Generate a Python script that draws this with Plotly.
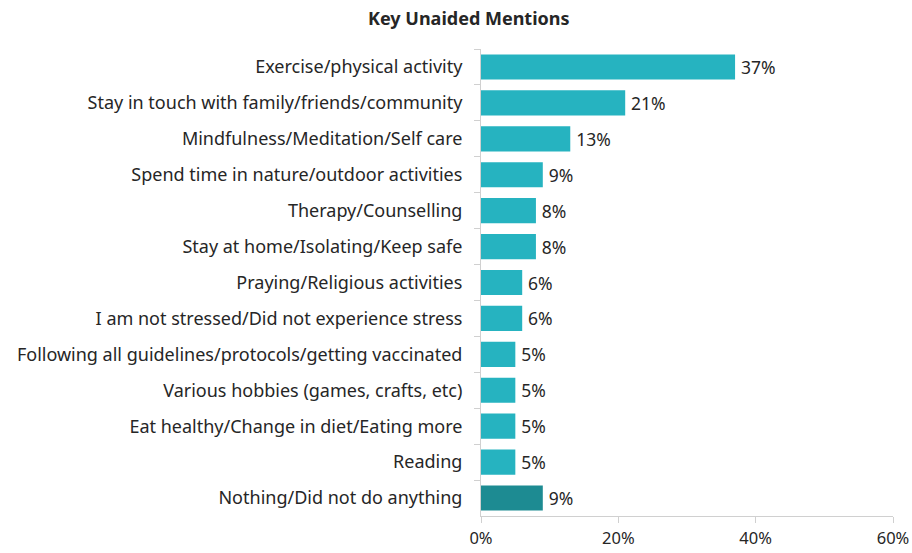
import plotly.graph_objects as go

categories = [
    "Exercise/physical activity",
    "Stay in touch with family/friends/community",
    "Mindfulness/Meditation/Self care",
    "Spend time in nature/outdoor activities",
    "Therapy/Counselling",
    "Stay at home/Isolating/Keep safe",
    "Praying/Religious activities",
    "I am not stressed/Did not experience stress",
    "Following all guidelines/protocols/getting vaccinated",
    "Various hobbies (games, crafts, etc)",
    "Eat healthy/Change in diet/Eating more",
    "Reading",
    "Nothing/Did not do anything",
]
values = [37, 21, 13, 9, 8, 8, 6, 6, 5, 5, 5, 5, 9]
x_ticks = [0, 20, 40, 60]
x_tick_labels = ["0%", "20%", "40%", "60%"]

LIGHT = "#26b3c0"
DARK = "#1d8b92"
colors = [LIGHT] * (len(values) - 1) + [DARK]

font_family = "Noto Sans, Open Sans, sans-serif"
TEXT = "#262626"
AXIS = "#d0d0d0"

# plot-area geometry in pixels
W, H = 912, 553
L, R, T, B = 481, 19, 49, 37

fig = go.Figure(
    go.Bar(
        x=values,
        y=categories,
        orientation="h",
        marker=dict(color=colors, line=dict(width=0)),
        text=[f"\u2009{v}%" for v in values],
        textposition="outside",
        textfont=dict(size=17.5, color=TEXT, family=font_family),
        cliponaxis=False,
        hoverinfo="skip",
    )
)

fig.update_layout(
    width=W,
    height=H,
    margin=dict(l=L, r=R, t=T, b=B, autoexpand=False),
    paper_bgcolor="white",
    plot_bgcolor="white",
    bargap=0.3,
    showlegend=False,
    font=dict(family=font_family, size=17.5, color=TEXT),
    annotations=[
        dict(
            text="<b>Key Unaided Mentions</b>",
            x=(469 - L) / (W - L - R),
            y=1 + (T - 18) / (H - T - B),
            xref="paper", yref="paper",
            xanchor="center", yanchor="middle",
            showarrow=False,
            font=dict(size=18, color=TEXT, family=font_family),
        )
    ],
)

fig.update_xaxes(
    range=[0, 60],
    tickvals=x_ticks,
    ticktext=x_tick_labels,
    showgrid=False,
    zeroline=False,
    showline=True,
    linecolor=AXIS,
    linewidth=1,
    ticks="outside",
    ticklen=6,
    tickcolor=AXIS,
    ticklabelstandoff=1,
    automargin=False,
    tickfont=dict(size=16.5, color=TEXT),
)
fig.update_yaxes(
    autorange="reversed",
    showgrid=False,
    showline=True,
    linecolor=AXIS,
    linewidth=1,
    ticks="outside",
    ticklen=6,
    tickcolor=AXIS,
    tickson="boundaries",
    ticklabelstandoff=14,
    automargin=False,
    tickfont=dict(size=18, color=TEXT),
)

fig.write_html("out.html")
